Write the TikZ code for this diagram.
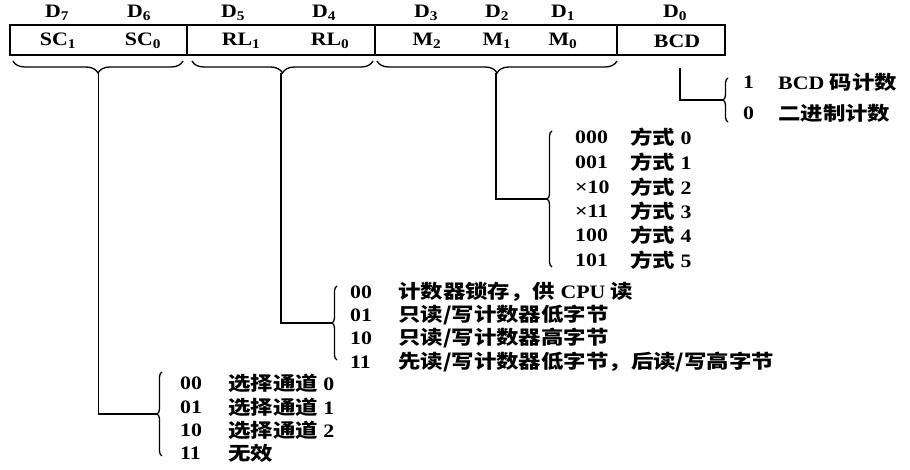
\documentclass[tikz,border=0pt]{standalone}
\usepackage{fontspec}
\setmainfont[FakeStretch=1.15]{Liberation Serif}
\newfontfamily\zhfont[FakeStretch=1.18]{Noto Sans CJK SC}
\newcommand{\zht}[1]{{\zhfont #1}}
\usetikzlibrary{positioning,decorations.pathreplacing}

\tikzset{
  txt/.style={font=\bfseries\fontsize{19}{22}\selectfont, inner sep=0pt},
  code/.style={txt, anchor=west},
  field/.style={draw, line width=1.3pt, minimum height=30pt, inner sep=0pt, outer sep=0pt},
  bbrace/.style={line width=1.3pt, decorate, decoration={brace, mirror, amplitude=12pt}},
  lbrace/.style={line width=1.3pt, decorate, decoration={brace, amplitude=5pt}},
  conn/.style={line width=1.5pt}
}

\begin{document}
\begin{tikzpicture}[x=1pt,y=-1pt]
    \useasboundingbox (0,0) rectangle (910,470);

    % Control word register
    \node[field, minimum width=177pt, anchor=north west] (fSC) at (10,25) {};
    \node[field, minimum width=188pt, right=0pt of fSC] (fRL) {};
    \node[field, minimum width=242pt, right=0pt of fRL] (fM) {};
    \node[field, minimum width=108pt, right=0pt of fM] (fBCD) {};

    % Bit numbers
    \node[txt] (d7) at (57,13) {D\textsubscript{7}};
    \node[txt] (d6) at (139,13) {D\textsubscript{6}};
    \node[txt] (d5) at (233,13) {D\textsubscript{5}};
    \node[txt] (d4) at (324,13) {D\textsubscript{4}};
    \node[txt] (d3) at (426,13) {D\textsubscript{3}};
    \node[txt] (d2) at (497,13) {D\textsubscript{2}};
    \node[txt] (d1) at (563,13) {D\textsubscript{1}};
    \node[txt] (d0) at (675,13) {D\textsubscript{0}};

    % Field names
    \node[txt] (sc1) at (58,41) {SC\textsubscript{1}};
    \node[txt] (sc0) at (143,41) {SC\textsubscript{0}};
    \node[txt] (rl1) at (241,41) {RL\textsubscript{1}};
    \node[txt] (rl0) at (330,41) {RL\textsubscript{0}};
    \node[txt] (m2) at (427,41) {M\textsubscript{2}};
    \node[txt] (m1) at (497,41) {M\textsubscript{1}};
    \node[txt] (m0) at (563,41) {M\textsubscript{0}};
    \node[txt] (bcd) at (677,41) {BCD};

    % Braces under the fields
    \draw[bbrace] ([xshift=3pt,yshift=-6pt]fSC.south west) -- ([xshift=-4pt,yshift=-6pt]fSC.south east);
    \draw[bbrace] ([xshift=5pt,yshift=-6pt]fRL.south west) -- ([xshift=-2pt,yshift=-6pt]fRL.south east);
    \draw[bbrace] ([xshift=2pt,yshift=-6pt]fM.south west) -- ([xshift=0pt,yshift=-6pt]fM.south east);
    \coordinate (tSC) at ([yshift=-18pt]fSC.south);
    \coordinate (tRL) at ([yshift=-18pt]fRL.south);
    \coordinate (tM) at ([yshift=-18pt]fM.south);
    \coordinate (tBCD) at ([xshift=9pt,yshift=-13pt]fBCD.south);

    % D0 choices
    \draw[lbrace] (728,122) -- (728,78);
    \coordinate (lBCD) at (723,100);
    \node[code] (b1) at (743,82) {1};
    \node[code] (b0) at (743,113) {0};
    \node[code] (b1t) at (778,82) {BCD \zht{码计数}};
    \node[code] (b0t) at (778,113) {\zht{二进制计数}};

    % Mode choices
    \draw[lbrace] (552,267) -- (552,131);
    \coordinate (lM) at (547,199);
    \node[code] (m000) at (575,137) {000};
    \node[code] (m001) at (575,162) {001};
    \node[code] (mx10) at (575,187) {×10};
    \node[code] (mx11) at (575,211) {×11};
    \node[code] (m100) at (575,235) {100};
    \node[code] (m101) at (575,260) {101};
    \node[code] (m000t) at (630,137) {\zht{方式} 0};
    \node[code] (m001t) at (630,162) {\zht{方式} 1};
    \node[code] (mx10t) at (630,187) {\zht{方式} 2};
    \node[code] (mx11t) at (630,211) {\zht{方式} 3};
    \node[code] (m100t) at (630,235) {\zht{方式} 4};
    \node[code] (m101t) at (630,260) {\zht{方式} 5};

    % Read/write choices
    \draw[lbrace] (337,360) -- (337,286);
    \coordinate (lRL) at (332,323);
    \node[code] (r00) at (350,292) {00};
    \node[code] (r01) at (350,315) {01};
    \node[code] (r10) at (350,338) {10};
    \node[code] (r11) at (350,362) {11};
    \node[code] (r00t) at (398,292) {\zht{计数器锁存，供} CPU \zht{读}};
    \node[code] (r01t) at (398,315) {\zht{只读/写计数器低字节}};
    \node[code] (r10t) at (398,338) {\zht{只读/写计数器高字节}};
    \node[code] (r11t) at (398,362) {\zht{先读/写计数器低字节，后读/写高字节}};

    % Counter select choices
    \draw[lbrace] (162,456) -- (162,372);
    \coordinate (lSC) at (157,414);
    \node[code] (s00) at (180,383) {00};
    \node[code] (s01) at (180,407) {01};
    \node[code] (s10) at (180,430) {10};
    \node[code] (s11) at (180,453) {11};
    \node[code] (s00t) at (228,383) {\zht{选择通道} 0};
    \node[code] (s01t) at (228,407) {\zht{选择通道} 1};
    \node[code] (s10t) at (228,430) {\zht{选择通道} 2};
    \node[code] (s11t) at (228,453) {\zht{无效}};

    % Connectors
    \draw[conn] (tSC) |- (lSC);
    \draw[conn] (tRL) |- (lRL);
    \draw[conn] (tM) |- (lM);
    \draw[conn] (tBCD) |- (lBCD);
\end{tikzpicture}
\end{document}
